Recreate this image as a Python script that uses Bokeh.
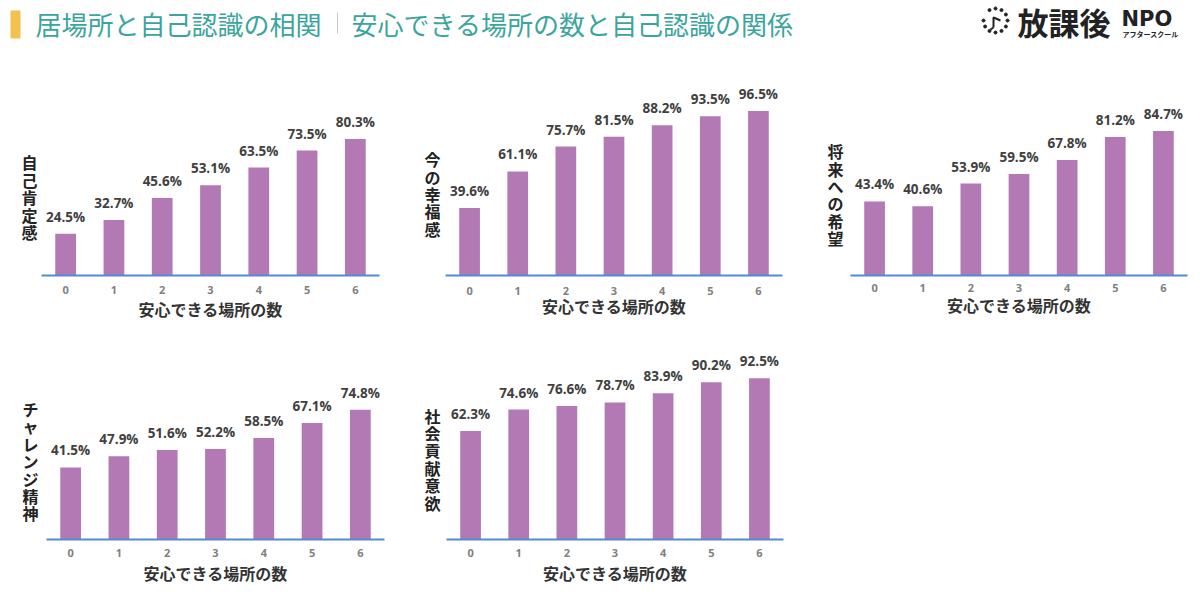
import math
from bokeh.plotting import figure
from bokeh.layouts import column, row
from bokeh.models import Range1d, FixedTicker, ColumnDataSource, Spacer
from bokeh.core.properties import value
from bokeh.embed import file_html
from bokeh.resources import INLINE

# ---------------- data ----------------
x_cats = [0, 1, 2, 3, 4, 5, 6]
x_labels = ["0", "1", "2", "3", "4", "5", "6"]
x_title = "安心できる場所の数"

jiko_koutei = [24.5, 32.7, 45.6, 53.1, 63.5, 73.5, 80.3]
ima_koufuku = [39.6, 61.1, 75.7, 81.5, 88.2, 93.5, 96.5]
shourai_kibou = [43.4, 40.6, 53.9, 59.5, 67.8, 81.2, 84.7]
challenge = [41.5, 47.9, 51.6, 52.2, 58.5, 67.1, 74.8]
shakai_kouken = [62.3, 74.6, 76.6, 78.7, 83.9, 90.2, 92.5]

names = ["自己肯定感", "今の幸福感", "将来への希望", "チャレンジ精神", "社会貢献意欲"]

title_part1 = "居場所と自己認識の相関"
title_part2 = "安心できる場所の数と自己認識の関係"

# ---------------- style ----------------
BAR = "#b279b5"
AXIS = "#528bd4"
TEAL = "#3aa59d"
JP = "Noto Sans CJK JP"
NUM = "Open Sans"


def make_chart(vals, name, fig_left, fig_width, row_top, row_h,
               axis_left, spacing, label_x, label_yc, baseline, px, tick_c, xlab_c):
    bl = int(round(axis_left - fig_left))
    fw = int(round(7 * spacing))
    br = fig_width - bl - fw
    bt = int(round(baseline - 110 * px - row_top))
    bb = int(round(row_top + row_h - baseline))
    fh = row_h - bt - bb
    y_end = fh / px
    so = int(round(tick_c - baseline - 6))
    als = int(round(xlab_c - baseline - so - 25))

    p = figure(width=fig_width, height=row_h, output_backend="svg", toolbar_location=None,
               x_range=Range1d(-0.5, 6.5), y_range=Range1d(0, y_end),
               min_border_left=bl, min_border_right=br, min_border_top=bt, min_border_bottom=bb)
    p.outline_line_color = None
    p.xgrid.visible = False
    p.ygrid.visible = False
    p.background_fill_color = "white"
    p.border_fill_color = "white"
    src = ColumnDataSource(dict(x=x_cats, v=vals, t=[f"{v:.1f}%" for v in vals]))
    p.vbar(x="x", top="v", width=0.43, source=src, fill_color=BAR, line_color=None)
    p.text(x="x", y="v", text="t", source=src, y_offset=-8, text_align="center",
           text_baseline="bottom", text_font=value(NUM), text_font_size="13.5px",
           text_font_style="bold", text_color="#404040")

    # x axis
    ax = p.xaxis[0]
    ax.ticker = FixedTicker(ticks=x_cats)
    ax.major_label_overrides = {i: s for i, s in zip(x_cats, x_labels)}
    ax.axis_line_color = AXIS
    ax.axis_line_width = 2
    ax.major_tick_line_color = None
    ax.minor_tick_line_color = None
    ax.major_tick_out = 0
    ax.major_tick_in = 0
    ax.major_label_standoff = so
    ax.major_label_text_font = NUM
    ax.major_label_text_font_size = "11px"
    ax.major_label_text_font_style = "bold"
    ax.major_label_text_color = "#808080"
    ax.axis_label = x_title
    ax.axis_label_standoff = als
    ax.axis_label_text_font = JP
    ax.axis_label_text_font_size = "16px"
    ax.axis_label_text_font_style = "bold"
    ax.axis_label_text_color = "#333333"

    # y axis: shows the stacked (vertical) series name as its single label
    yt = round((baseline - label_yc) / px, 2)
    ay = p.yaxis[0]
    ay.ticker = FixedTicker(ticks=[yt])
    ay.major_label_overrides = {yt: "\n".join(list(name))}
    ay.axis_line_color = None
    ay.major_tick_line_color = None
    ay.minor_tick_line_color = None
    ay.major_tick_out = 0
    ay.major_tick_in = 0
    ay.major_label_standoff = max(0, int(round(axis_left - (label_x + 8))))
    ay.major_label_text_font = JP
    ay.major_label_text_font_size = "16px"
    ay.major_label_text_font_style = "bold"
    ay.major_label_text_color = "#222222"
    ay.major_label_text_line_height = 0.725
    return p


R1T, R1H = 70, 270
R2T, R2H = 340, 261
f1 = make_chart(jiko_koutei, names[0], 0, 400, R1T, R1H, 41.2, 48.33, 29, 195, 275, 1.736, 290.7, 310)
f2 = make_chart(ima_koufuku, names[1], 400, 400, R1T, R1H, 444.9, 48.17, 432, 196, 279.3, 1.74, 296, 311.7)
f3 = make_chart(shourai_kibou, names[2], 800, 400, R1T, R1H, 849.8, 48.2, 835, 196, 279.3, 1.76, 293, 310.7)
f4 = make_chart(challenge, names[3], 0, 400, R2T, R2H, 46.2, 48.23, 30, 460.5, 539.3, 1.745, 554, 574)
f5 = make_chart(shakai_kouken, names[4], 400, 400, R2T, R2H, 445.6, 48.18, 431.7, 459, 539.3, 1.742, 554, 574)

# ---------------- header ----------------
h = figure(width=1200, height=70, output_backend="svg", toolbar_location=None,
           x_range=Range1d(0, 1200), y_range=Range1d(70, 0), min_border=0)
h.axis.visible = False
h.grid.visible = False
h.outline_line_color = None
h.quad(left=[10], right=[20], top=[10], bottom=[38], fill_color="#f2c14e", line_color=None)
h.text(x=[35], y=[23], text=[title_part1], text_baseline="middle", text_font=value(JP),
       text_font_size="26px", text_color=TEAL)
h.segment(x0=[337], y0=[12], x1=[337], y1=[33], line_color="#c8c8c8", line_width=1)
h.text(x=[351], y=[23], text=[title_part2], text_baseline="middle", text_font=value(JP),
       text_font_size="26px", text_color=TEAL)

# logo: dotted clock
cx, cy, r = 995, 20, 12
ang = [k * 30 for k in range(12) if k != 7]
h.scatter(x=[cx + r * math.cos(math.radians(a)) for a in ang],
          y=[cy + r * math.sin(math.radians(a)) for a in ang],
          size=3, color="#222222")
h.multi_line(xs=[[cx - 2, cx - 2, cx + 5], [cx - 2, cx - 5]], ys=[[cy + 7, cy - 3, cy], [cy + 7, cy + 9]],
             line_color="#222222", line_width=2)
h.text(x=[1017], y=[21], text=["放課後"], text_baseline="middle", text_font=value(JP),
       text_font_size="31px", text_font_style="bold", text_color="#222222")
h.text(x=[1121], y=[18], text=["NPO"], text_baseline="middle", text_font=value("DejaVu Sans"),
       text_font_size="21px", text_font_style="bold", text_color="#222222")
h.text(x=[1122], y=[33], text=["アフタースクール"], text_baseline="middle", text_font=value(JP),
       text_font_size="7px", text_font_style="bold", text_color="#222222")

layout = column(h, row(f1, f2, f3), row(f4, f5, Spacer(width=400, height=R2H)))

open("out.html", "w").write(file_html(layout, INLINE))
